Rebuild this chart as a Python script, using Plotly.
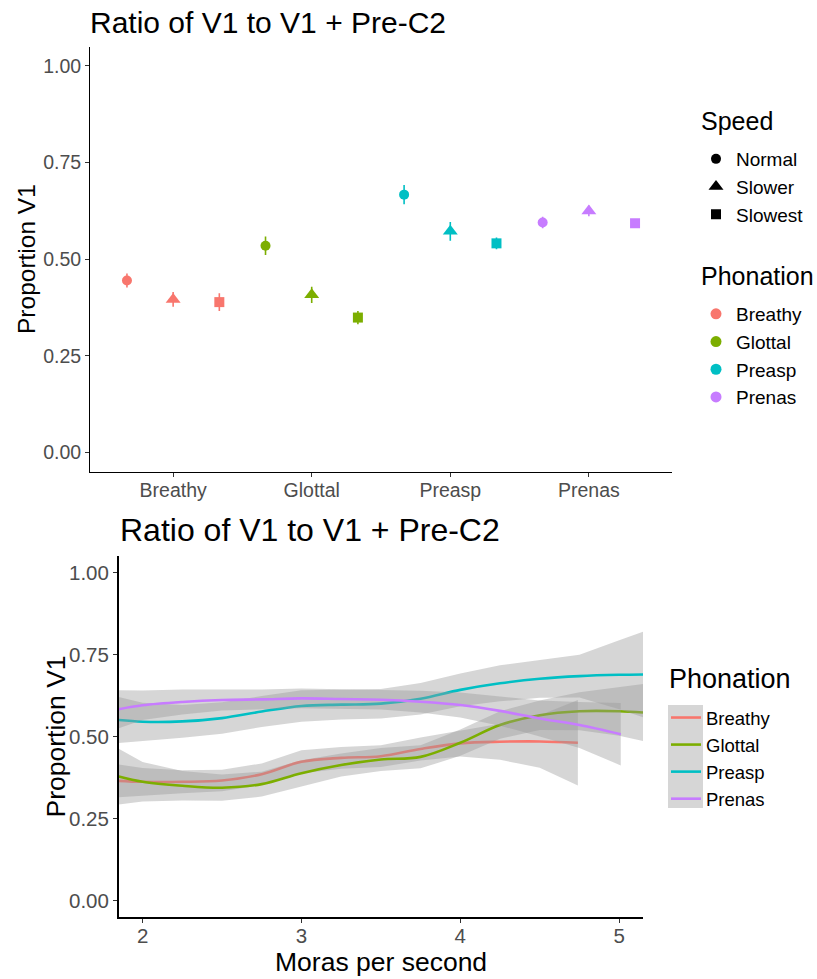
import plotly.graph_objects as go

# ---------------- data ----------------
phonations = ["Breathy", "Glottal", "Preasp", "Prenas"]
speeds = ["Normal", "Slower", "Slowest"]
colors = ["#F8766D", "#7CAE00", "#00BFC4", "#C77CFF"]
speed_symbols = ["circle", "triangle-up", "square"]

# top panel: mean proportion V1 and standard error, per phonation (Normal, Slower, Slowest)
mean_breathy = [0.445, 0.396, 0.389]
se_breathy = [0.018, 0.019, 0.023]
mean_glottal = [0.535, 0.408, 0.349]
se_glottal = [0.024, 0.021, 0.017]
mean_preasp = [0.667, 0.572, 0.541]
se_preasp = [0.025, 0.024, 0.015]
mean_prenas = [0.595, 0.625, 0.593]
se_prenas = [0.015, 0.014, 0.010]

# bottom panel: smoothed fit and confidence band vs. moras per second
x_breathy = [1.85, 2.0, 2.25, 2.5, 2.75, 3.0, 3.25, 3.5, 3.75, 4.0, 4.25, 4.5, 4.74]
fit_breathy = [0.365, 0.362, 0.362, 0.366, 0.385, 0.423, 0.435, 0.440, 0.462, 0.479, 0.484, 0.485, 0.481]
lo_breathy = [0.315, 0.320, 0.327, 0.333, 0.352, 0.388, 0.402, 0.407, 0.427, 0.439, 0.429, 0.405, 0.351]
hi_breathy = [0.415, 0.404, 0.397, 0.399, 0.418, 0.458, 0.468, 0.473, 0.497, 0.519, 0.539, 0.565, 0.611]

x_glottal = [1.85, 2.0, 2.25, 2.5, 2.75, 3.0, 3.25, 3.5, 3.75, 4.0, 4.25, 4.5, 4.75, 5.0, 5.15]
fit_glottal = [0.378, 0.362, 0.350, 0.344, 0.355, 0.388, 0.413, 0.430, 0.438, 0.481, 0.535, 0.565, 0.577, 0.577, 0.573]
lo_glottal = [0.293, 0.302, 0.305, 0.304, 0.317, 0.348, 0.378, 0.395, 0.403, 0.441, 0.493, 0.520, 0.519, 0.502, 0.486]
hi_glottal = [0.463, 0.422, 0.395, 0.384, 0.393, 0.428, 0.448, 0.465, 0.473, 0.521, 0.577, 0.610, 0.635, 0.652, 0.660]

x_preasp = [1.85, 2.0, 2.25, 2.5, 2.75, 3.0, 3.25, 3.5, 3.75, 4.0, 4.25, 4.5, 4.75, 5.0, 5.15]
fit_preasp = [0.550, 0.545, 0.546, 0.556, 0.576, 0.593, 0.597, 0.600, 0.615, 0.642, 0.662, 0.676, 0.684, 0.688, 0.689]
lo_preasp = [0.480, 0.487, 0.496, 0.508, 0.529, 0.545, 0.552, 0.555, 0.567, 0.592, 0.607, 0.618, 0.619, 0.583, 0.559]
hi_preasp = [0.620, 0.603, 0.596, 0.604, 0.623, 0.641, 0.642, 0.645, 0.663, 0.692, 0.717, 0.734, 0.749, 0.793, 0.819]

x_prenas = [1.85, 2.0, 2.25, 2.5, 2.75, 3.0, 3.25, 3.5, 3.75, 4.0, 4.25, 4.5, 4.75, 5.01]
fit_prenas = [0.583, 0.595, 0.605, 0.611, 0.613, 0.616, 0.614, 0.612, 0.606, 0.596, 0.578, 0.555, 0.535, 0.507]
lo_prenas = [0.525, 0.550, 0.567, 0.579, 0.583, 0.586, 0.584, 0.582, 0.573, 0.558, 0.533, 0.500, 0.465, 0.412]
hi_prenas = [0.641, 0.640, 0.643, 0.643, 0.643, 0.646, 0.644, 0.642, 0.639, 0.634, 0.623, 0.610, 0.605, 0.602]

y_ticks = [0, 0.25, 0.5, 0.75, 1.0]
x_ticks_bottom = [2, 3, 4, 5]

# ---------------- figure ----------------
W, H = 817, 979
FONT = "Liberation Sans, Arial, sans-serif"
TICKCOL = "#4D4D4D"
BAND = "rgba(153,153,153,0.4)"

means = [mean_breathy, mean_glottal, mean_preasp, mean_prenas]
ses = [se_breathy, se_glottal, se_preasp, se_prenas]
dodge = 1.0 / 3.0

fig = go.Figure()

marker_sizes = {"circle": 10, "triangle-up": 13, "square": 10}

# Top panel: points with error bars, dodged by speed
for pi, ph in enumerate(phonations):
    xs = [pi + (si - 1) * dodge for si in range(len(speeds))]
    fig.add_trace(go.Scatter(
        x=xs, y=means[pi], mode="markers", name=ph,
        xaxis="x", yaxis="y", legend="legend2",
        marker=dict(color=colors[pi], symbol=speed_symbols, opacity=1,
                    size=[marker_sizes[s] for s in speed_symbols],
                    line=dict(width=0)),
        error_y=dict(type="data", array=ses[pi], visible=True,
                     color=colors[pi], thickness=1.6, width=0),
        cliponaxis=False,
    ))

# Speed legend keys (black)
for si, sp in enumerate(speeds):
    fig.add_trace(go.Scatter(
        x=[None], y=[None], mode="markers", name=sp,
        xaxis="x", yaxis="y", legend="legend",
        marker=dict(color="black", symbol=speed_symbols[si], opacity=1,
                    size=marker_sizes[speed_symbols[si]]),
    ))

# Bottom panel: bands + smooth lines
xs_all = [x_breathy, x_glottal, x_preasp, x_prenas]
fits = [fit_breathy, fit_glottal, fit_preasp, fit_prenas]
los = [lo_breathy, lo_glottal, lo_preasp, lo_prenas]
his = [hi_breathy, hi_glottal, hi_preasp, hi_prenas]
for pi, ph in enumerate(phonations):
    xx = xs_all[pi]
    fig.add_trace(go.Scatter(
        x=xx + xx[::-1], y=his[pi] + los[pi][::-1], fill="toself",
        fillcolor=BAND, line=dict(width=0), mode="lines",
        xaxis="x2", yaxis="y2", showlegend=False, hoverinfo="skip",
    ))
    fig.add_trace(go.Scatter(
        x=xx, y=fits[pi], mode="lines", name=ph,
        line=dict(color=colors[pi], width=2.6, shape="spline"),
        xaxis="x2", yaxis="y2", legend="legend3",
    ))


def px_x(p):
    return p / W


def px_y(p):
    return 1 - p / H


def axis_style(lw):
    return dict(showgrid=False, zeroline=False, showline=True, linecolor="black",
                linewidth=lw, ticks="outside", ticklen=4, tickcolor="#333333",
                tickwidth=1, mirror=False)


legend_common = dict(xanchor="left", yanchor="top", bgcolor="rgba(0,0,0,0)",
                     itemclick=False, itemdoubleclick=False)


def label(text, x, y, size, angle=0, anchor="left"):
    return dict(text=text, x=px_x(x), y=px_y(y), xref="paper", yref="paper",
                xanchor=anchor, yanchor="middle", textangle=angle,
                showarrow=False, font=dict(size=size, color="black"))


fig.update_layout(
    width=W, height=H,
    margin=dict(l=0, r=0, t=0, b=0),
    paper_bgcolor="white", plot_bgcolor="white",
    font=dict(family=FONT, color="black"),
    showlegend=True,
    xaxis=dict(domain=[px_x(90), px_x(672)], range=[-0.6, 3.6], anchor="y",
               tickvals=list(range(len(phonations))), ticktext=phonations,
               tickfont=dict(size=19.5, color=TICKCOL), ticklabelstandoff=-3,
               **axis_style(1)),
    yaxis=dict(domain=[px_y(471.8), px_y(46.6)], range=[-0.05, 1.05], anchor="x",
               tickvals=y_ticks, tickformat=".2f",
               tickfont=dict(size=19.5, color=TICKCOL),
               **axis_style(1)),
    xaxis2=dict(domain=[px_x(118.75), px_x(643)], range=[1.85, 5.15], anchor="y2",
                tickvals=x_ticks_bottom,
                tickfont=dict(size=20.5, color=TICKCOL), ticklabelstandoff=-4,
                **axis_style(1.5)),
    yaxis2=dict(domain=[px_y(917.1), px_y(555.9)], range=[-0.05, 1.05], anchor="x2",
                tickvals=y_ticks, tickformat=".2f",
                tickfont=dict(size=20.5, color=TICKCOL),
                **axis_style(1.5)),
    legend=dict(x=px_x(696), y=px_y(140), font=dict(size=19), **legend_common),
    legend2=dict(x=px_x(696), y=px_y(295), font=dict(size=19), **legend_common),
    legend3=dict(x=px_x(666), y=px_y(699), font=dict(size=18.5), **legend_common),
    annotations=[
        label("Ratio of V1 to V1 + Pre-C2", 88, 22, 30),
        label("Ratio of V1 to V1 + Pre-C2", 118, 530, 32),
        label("Proportion V1", 27, 259, 24.5, angle=-90, anchor="center"),
        label("Proportion V1", 55, 736.5, 26.5, angle=-90, anchor="center"),
        label("Moras per second", 381, 962, 26.5, anchor="center"),
        label("Speed", 699, 121, 25),
        label("Phonation", 699, 276, 25),
        label("Phonation", 667, 679, 27),
    ],
    shapes=[
        dict(type="rect", xref="paper", yref="paper",
             x0=px_x(668), x1=px_x(703), y0=px_y(808), y1=px_y(705),
             fillcolor=BAND, line=dict(width=0), layer="below"),
    ],
)

fig.write_html("out.html")
